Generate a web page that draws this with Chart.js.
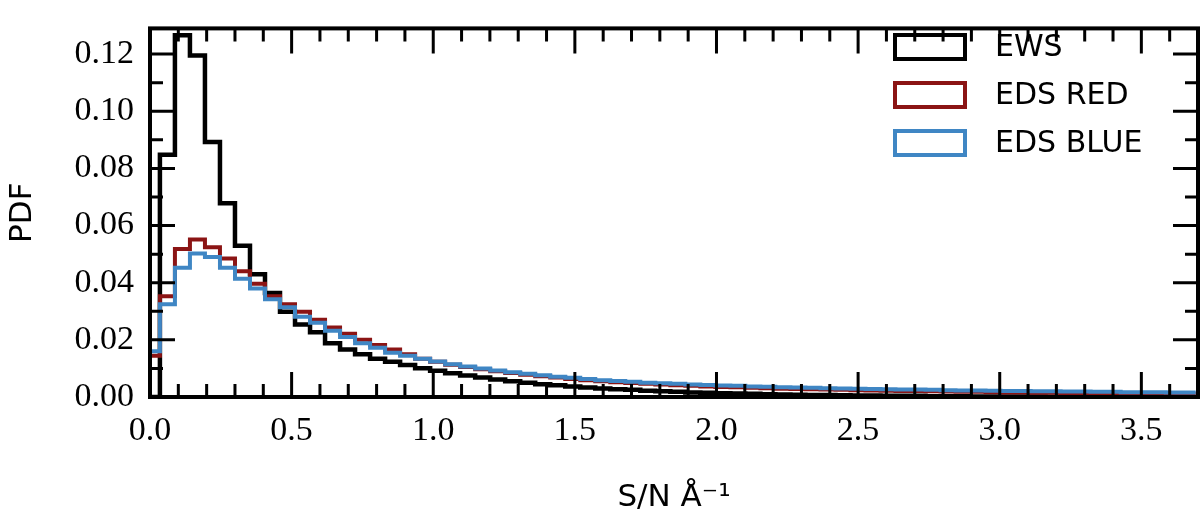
<!DOCTYPE html>
<html><head><meta charset="utf-8">
<script src="https://cdn.jsdelivr.net/npm/chart.js@4"></script>
<style>body{margin:0;background:#fff}#wrap{width:1200px;height:521px}</style>
</head><body><div id="wrap"><canvas id="c" width="1200" height="521"></canvas></div>
<script>
const binStart = -0.018;
const binWidth = 0.053;
const seriesLabels = ["EWS", "EDS RED", "EDS BLUE"];
const seriesColors = ["#000000", "#8b1414", "#3f86c4"];
const ews = [0,0.0848,0.1266,0.1195,0.0892,0.0678,0.0529,0.043,0.0364,0.0298,0.0254,0.0227,0.0188,0.0166,0.0150,0.0134,0.0123,0.0112,0.0101,
0.0092,0.0083,0.0075,0.0068,0.0061,0.0055,0.0050,0.0045,0.0041,0.0037,0.0033,0.0030,0.0027,0.0025,0.0022,0.0020,0.0018,0.0016,0.0015,0.0013,0.0012,0.0011,0.0010,0.0009,0.0008,0.0007,0.0007,0.0006,0.0005,0.0005,0.0004,0.0004,0.0004,0.0003,0.0003,0.0003,0.0002,0.0002,0.0002,0.0002,0.0002,0.0001,0.0001,0.0001,0.0001,0.0001,0.0001,0.0001,0.0001,0.0001,0.0001];
const edsRed = [0.0144,0.0353,0.0518,0.0551,0.0524,0.0485,0.044,0.0396,0.0353,0.0325,0.0298,0.027,0.0243,0.0221,0.02,0.0182,0.0166,0.015,0.0134,
0.0123,0.0113,0.0105,0.0097,0.0090,0.0084,0.0078,0.0073,0.0068,0.0063,0.0059,0.0055,0.0052,0.0049,0.0046,0.0044,0.0041,0.0039,0.0037,0.0035,0.0034,0.0032,0.0031,0.0029,0.0028,0.0027,0.0026,0.0025,0.0024,0.0023,0.0022,0.0021,0.0021,0.0020,0.0019,0.0018,0.0018,0.0017,0.0016,0.0016,0.0015,0.0015,0.0014,0.0014,0.0013,0.0013,0.0012,0.0012,0.0012,0.0011,0.0011];
const edsBlue = [0.0160,0.0325,0.0452,0.0502,0.049,0.0452,0.0414,0.038,0.0342,0.0314,0.0281,0.026,0.0232,0.021,0.0188,0.0172,0.0155,0.0144,0.0134,
0.0124,0.0115,0.0107,0.0100,0.0093,0.0087,0.0081,0.0076,0.0071,0.0067,0.0063,0.0059,0.0056,0.0053,0.0050,0.0048,0.0046,0.0044,0.0042,0.0040,0.0039,0.0037,0.0036,0.0034,0.0033,0.0032,0.0031,0.0030,0.0029,0.0028,0.0027,0.0026,0.0026,0.0025,0.0024,0.0023,0.0023,0.0022,0.0021,0.0021,0.0020,0.0020,0.0019,0.0019,0.0018,0.0018,0.0017,0.0017,0.0017,0.0016,0.0016];
const xTicks = [0.0,0.5,1.0,1.5,2.0,2.5,3.0,3.5];
const yTicks = [0.00,0.02,0.04,0.06,0.08,0.10,0.12];

function steps(vals) {
  const pts = vals.map((v, i) => ({ x: binStart + i * binWidth, y: v }));
  pts.push({ x: binStart + vals.length * binWidth, y: vals[vals.length - 1] });
  return pts;
}
const allSeries = [ews, edsRed, edsBlue];

// inward ticks on all four sides, frame and legend
const decor = {
  id: "decor",
  afterDraw(chart) {
    const { ctx, chartArea: a, scales: { x, y } } = chart;
    ctx.save();
    ctx.strokeStyle = "#000";
    ctx.lineWidth = 3;
    for (let v = 0; v <= 3.7001; v += 0.1) {
      const px = x.getPixelForValue(v);
      const major = Math.abs(v * 2 - Math.round(v * 2)) < 1e-6;
      const L = major ? 25 : 13;
      ctx.beginPath();
      ctx.moveTo(px, a.bottom); ctx.lineTo(px, a.bottom - L);
      ctx.moveTo(px, a.top); ctx.lineTo(px, a.top + L);
      ctx.stroke();
    }
    for (let i = 0; i <= 12; i++) {
      const py = y.getPixelForValue(i * 0.01);
      const L = i % 2 === 0 ? 25 : 13;
      ctx.beginPath();
      ctx.moveTo(a.left, py); ctx.lineTo(a.left + L, py);
      ctx.moveTo(a.right, py); ctx.lineTo(a.right - L, py);
      ctx.stroke();
    }
    ctx.lineWidth = 4;
    ctx.strokeRect(a.left, a.top, a.right - a.left, a.bottom - a.top);
    // legend
    ctx.font = "30px 'DejaVu Sans'";
    ctx.textBaseline = "middle";
    seriesLabels.forEach((lab, i) => {
      const yy = 47 + i * 48;
      ctx.strokeStyle = seriesColors[i];
      ctx.lineWidth = 4;
      ctx.strokeRect(895, yy - 12, 70, 24);
      ctx.fillStyle = "#000";
      ctx.fillText(lab, 995, yy + 1);
    });
    ctx.restore();
  }
};

new Chart(document.getElementById("c"), {
  type: "line",
  data: {
    datasets: allSeries.map((s, i) => ({
      label: seriesLabels[i],
      data: steps(s),
      stepped: "before",
      borderColor: seriesColors[i],
      borderWidth: i === 0 ? 4.5 : 4,
      pointRadius: 0,
      fill: false,
      order: 2 - i
    }))
  },
  options: {
    responsive: false,
    animation: false,
    layout: { padding: { top: 3, right: 2, left: 0, bottom: 0 } },
    plugins: { legend: { display: false }, tooltip: { enabled: false } },
    scales: {
      x: {
        type: "linear", min: 0, max: 3.7,
        afterBuildTicks: s => { s.ticks = xTicks.map(v => ({ value: v })); },
        afterFit: s => { s.height = 124; },
        grid: { display: false },
        border: { display: false },
        ticks: { font: { family: "'Liberation Serif'", size: 34 }, color: "#000", padding: 6, maxRotation: 0,
                 callback: v => v.toFixed(1) },
        title: { display: true, text: "S/N Å\u207B\u00B9", font: { family: "'DejaVu Sans'", size: 31 }, color: "#000", padding: { top: 12 } }
      },
      y: {
        min: 0, max: 0.129,
        afterBuildTicks: s => { s.ticks = yTicks.map(v => ({ value: v })); },
        afterFit: s => { s.width = 150; },
        grid: { display: false },
        border: { display: false },
        ticks: { font: { family: "'Liberation Serif'", size: 34 }, color: "#000", padding: 8,
                 callback: v => v.toFixed(2) },
        title: { display: true, text: "PDF", font: { family: "'DejaVu Sans'", size: 31 }, color: "#000", padding: { bottom: 2 } }
      }
    }
  },
  plugins: [decor]
});
</script></body></html>
